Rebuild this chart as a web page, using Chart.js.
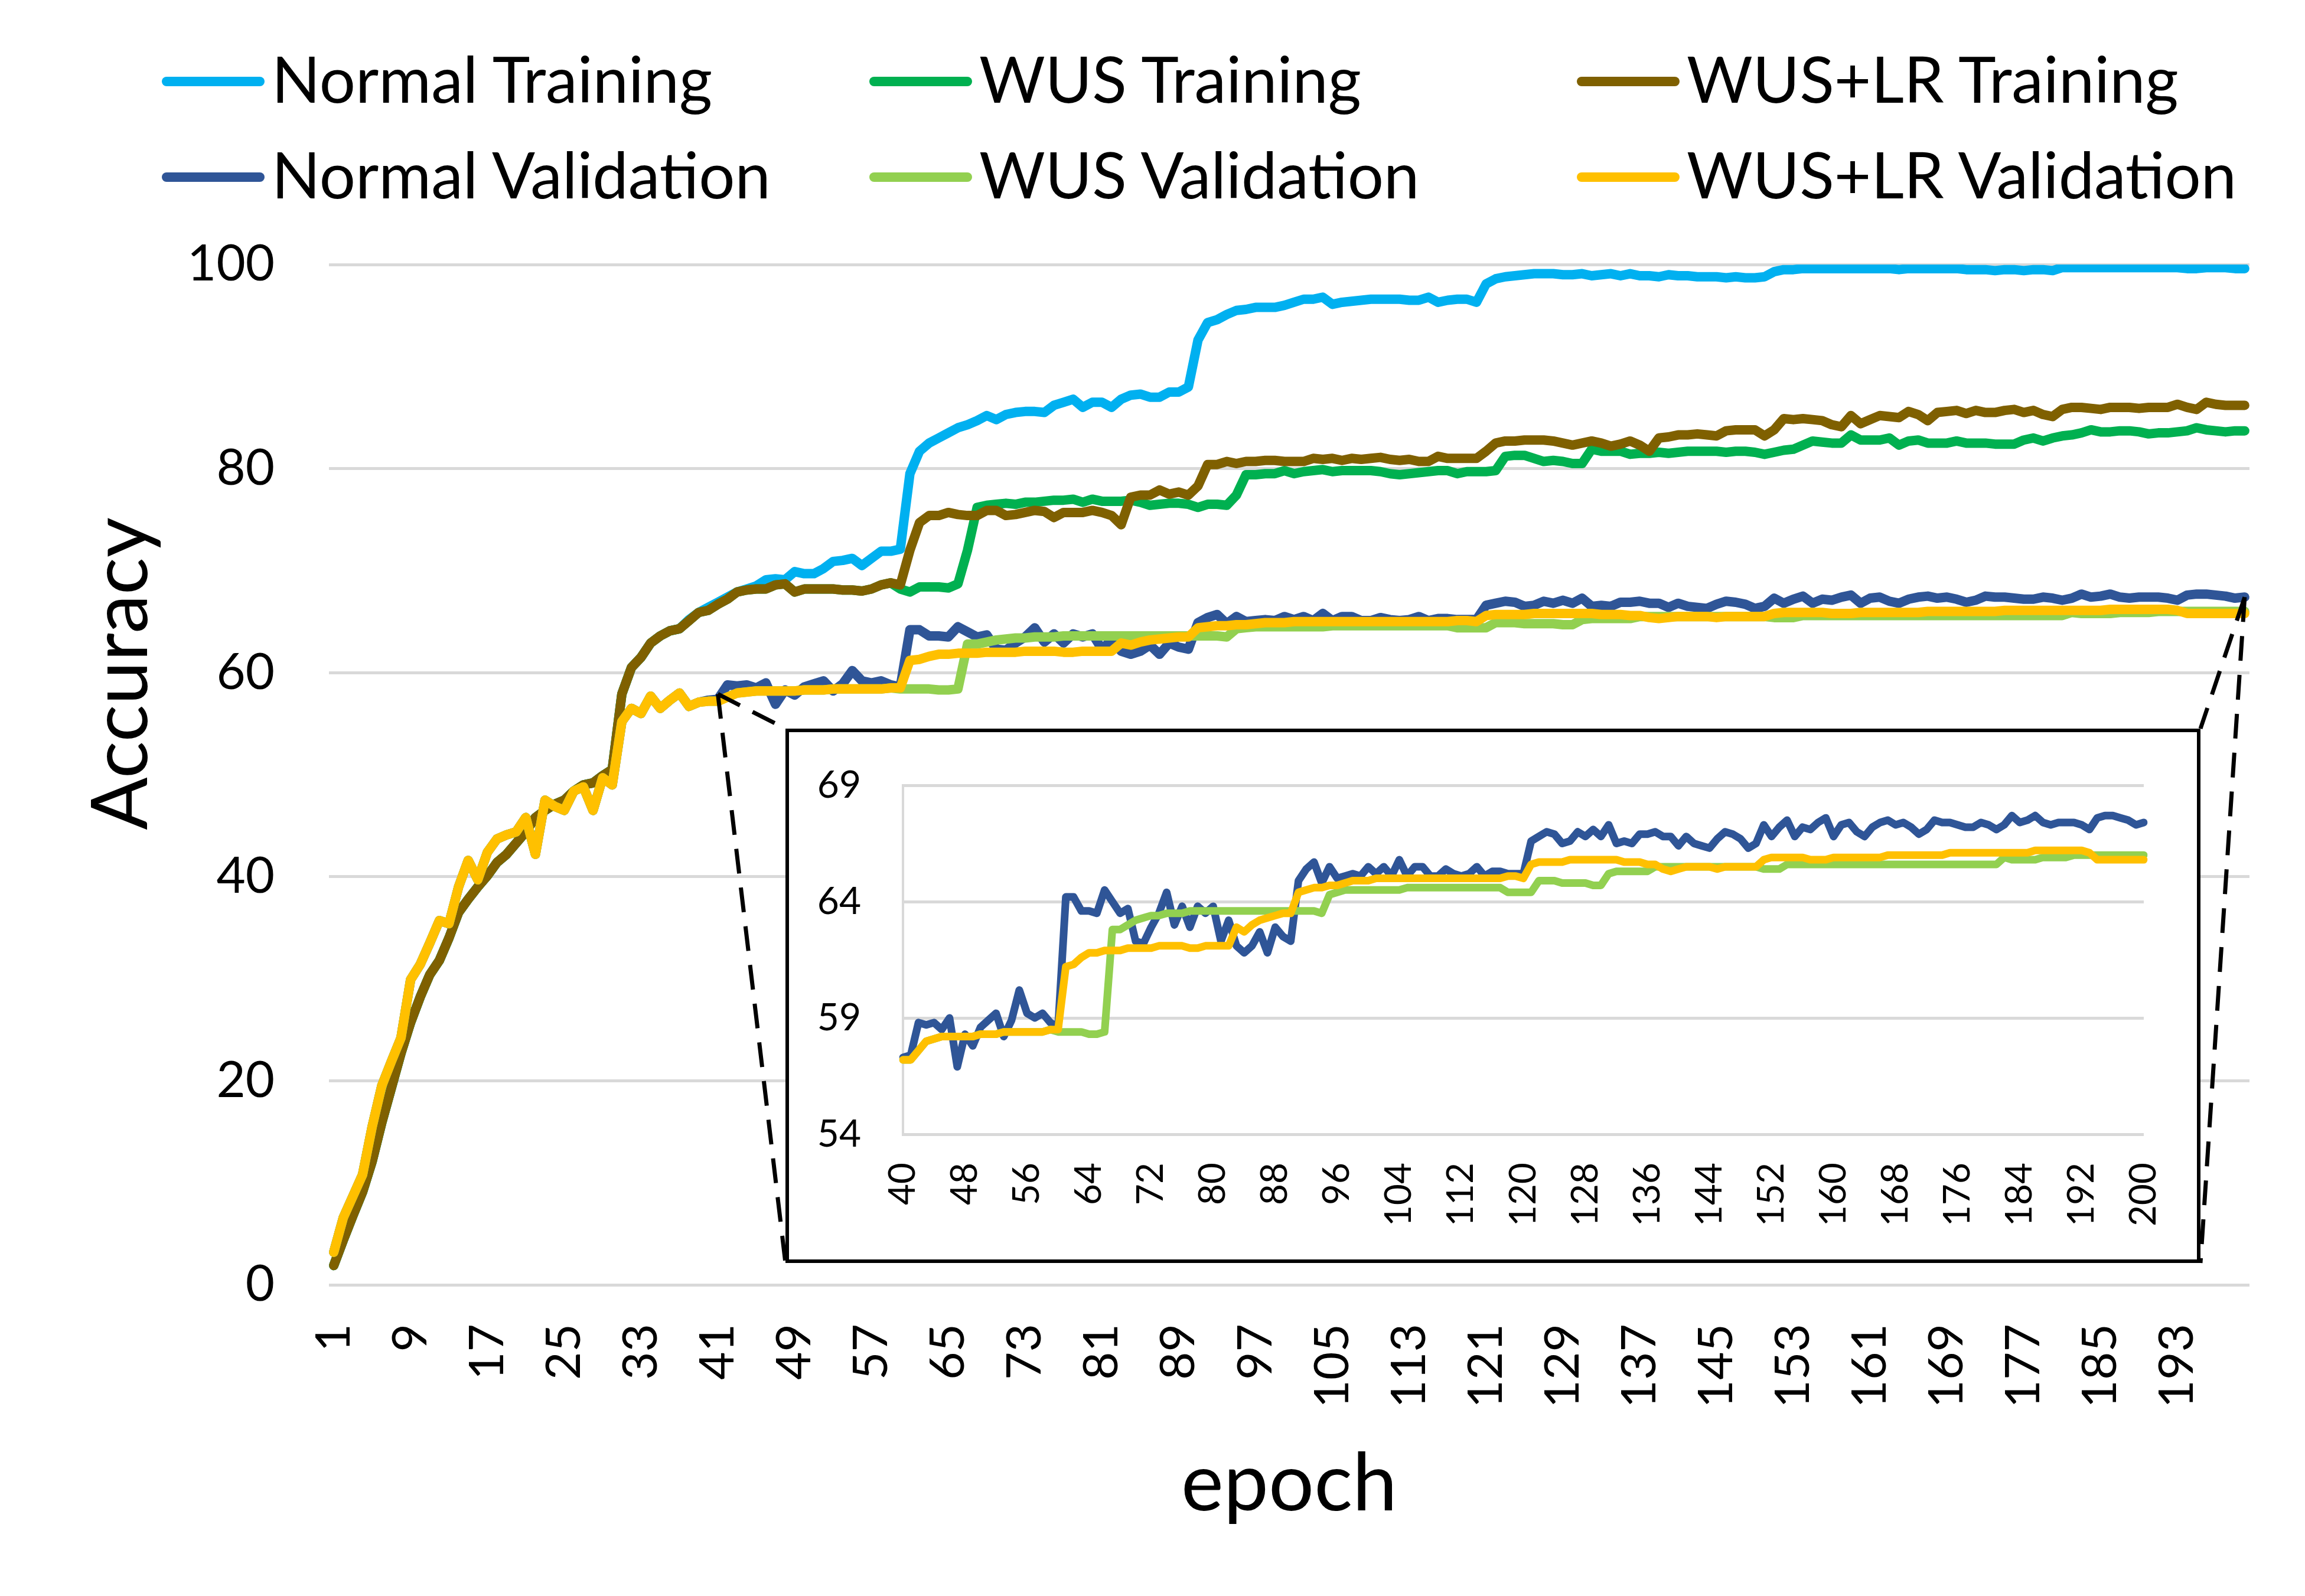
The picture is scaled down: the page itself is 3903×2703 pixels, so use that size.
<!DOCTYPE html>
<html>
<head>
<meta charset="utf-8">
<script src="https://cdn.jsdelivr.net/npm/chart.js@4.4.1/dist/chart.umd.min.js"></script>
<style>
  html, body { margin: 0; padding: 0; background: #fff; }
  #page { position: relative; width: 3903px; height: 2703px; overflow: hidden; font-family: Lato, "DejaVu Sans", sans-serif; }
  #mainWrap { position: absolute; left: 0; top: 0; width: 3903px; height: 2703px; }
  #insetBox { position: absolute; left: 1330px; top: 1234px; width: 2396px; height: 905px; box-sizing: border-box;
              border: 6px solid #000; background: #fff; }
  #insetWrap { position: absolute; left: 0; top: 0; width: 2384px; height: 893px; }
  #legend { position: absolute; left: 274px; top: 51px; display: grid; grid-template-columns: repeat(3, 1198px); grid-auto-rows: 162px; }
  .item { display: flex; align-items: center; }
  .swatch { width: 174px; height: 16px; border-radius: 8px; margin-right: 12px; margin-top: 12px; }
  .text { font-size: 108px; line-height: 1; color: #000; white-space: nowrap; }
</style>
</head>
<body>
<div id="page">
  <div id="mainWrap"><canvas id="main"></canvas></div>
  <div id="insetBox"><div id="insetWrap"><canvas id="inset"></canvas></div></div>
  <div id="legend"></div>
</div>
<script>
// categories
const epochs = Array.from({length: 200}, (_, i) => i + 1);

// training accuracy per epoch (1..200)
const normalTraining = [
  1.9, 4.4, 6.8, 9.1, 12.1, 15.9, 19.3, 22.7, 25.7, 28.2,
  30.4, 31.8, 34.0, 36.5, 37.8, 39.0, 40.1, 41.4, 42.2, 43.3,
  44.4, 45.8, 46.5, 47.1, 47.5, 48.4, 49.0, 49.2, 49.9, 50.5,
  57.9, 60.5, 61.5, 62.9, 63.6, 64.1, 64.3, 65.2, 65.9, 66.4,
  66.9, 67.4, 67.9, 68.2, 68.5, 69.1, 69.2, 69.1, 69.9, 69.7,
  69.7, 70.2, 70.9, 71.0, 71.2, 70.5, 71.2, 71.9, 71.9, 72.1,
  79.5, 81.7, 82.5, 83.0, 83.5, 84.0, 84.3, 84.7, 85.2, 84.8,
  85.3, 85.5, 85.6, 85.6, 85.5, 86.2, 86.5, 86.8, 86.0, 86.5,
  86.5, 86.0, 86.8, 87.2, 87.3, 87.0, 87.0, 87.5, 87.5, 88.0,
  92.6, 94.3, 94.6, 95.1, 95.5, 95.6, 95.8, 95.8, 95.8, 96.0,
  96.3, 96.6, 96.6, 96.8, 96.1, 96.3, 96.4, 96.5, 96.6, 96.6,
  96.6, 96.6, 96.5, 96.5, 96.8, 96.3, 96.5, 96.6, 96.6, 96.3,
  98.1, 98.6, 98.8, 98.9, 99.0, 99.1, 99.1, 99.1, 99.0, 99.0,
  99.1, 98.9, 99.0, 99.1, 98.9, 99.1, 98.9, 98.9, 98.8, 99.0,
  98.9, 98.9, 98.8, 98.8, 98.8, 98.7, 98.8, 98.7, 98.7, 98.8,
  99.3, 99.5, 99.5, 99.6, 99.6, 99.6, 99.6, 99.6, 99.6, 99.6,
  99.6, 99.6, 99.6, 99.5, 99.6, 99.6, 99.6, 99.6, 99.6, 99.6,
  99.5, 99.5, 99.5, 99.4, 99.5, 99.5, 99.4, 99.5, 99.5, 99.4,
  99.7, 99.7, 99.7, 99.7, 99.7, 99.7, 99.7, 99.7, 99.7, 99.7,
  99.7, 99.7, 99.7, 99.6, 99.6, 99.7, 99.7, 99.7, 99.6, 99.6
];
const wusTraining = [
  1.9, 4.4, 6.8, 9.1, 12.1, 15.9, 19.3, 22.7, 25.7, 28.2,
  30.4, 31.8, 34.0, 36.5, 37.8, 39.0, 40.1, 41.4, 42.2, 43.3,
  44.4, 45.8, 46.5, 47.1, 47.5, 48.4, 49.0, 49.2, 49.9, 50.5,
  57.9, 60.5, 61.5, 62.9, 63.6, 64.1, 64.3, 65.1, 65.9, 66.1,
  66.7, 67.2, 67.9, 68.1, 68.2, 68.2, 68.6, 68.7, 67.9, 68.2,
  68.2, 68.2, 68.2, 68.1, 68.1, 68.0, 68.2, 68.6, 68.8, 68.2,
  67.9, 68.4, 68.4, 68.4, 68.3, 68.7, 72.0, 76.2, 76.4, 76.5,
  76.6, 76.5, 76.7, 76.7, 76.8, 76.9, 76.9, 77.0, 76.7, 77.0,
  76.8, 76.8, 76.8, 76.9, 76.7, 76.4, 76.5, 76.6, 76.6, 76.5,
  76.2, 76.5, 76.5, 76.4, 77.4, 79.4, 79.4, 79.5, 79.5, 79.8,
  79.5, 79.7, 79.8, 79.9, 79.7, 79.8, 79.8, 79.8, 79.8, 79.7,
  79.5, 79.4, 79.5, 79.6, 79.7, 79.8, 79.8, 79.5, 79.7, 79.7,
  79.7, 79.8, 81.2, 81.3, 81.3, 81.0, 80.7, 80.8, 80.7, 80.5,
  80.5, 81.9, 81.7, 81.7, 81.7, 81.4, 81.5, 81.5, 81.6, 81.5,
  81.6, 81.7, 81.7, 81.7, 81.7, 81.6, 81.7, 81.7, 81.6, 81.4,
  81.6, 81.8, 81.9, 82.3, 82.7, 82.6, 82.5, 82.5, 83.3, 82.8,
  82.8, 82.8, 83.0, 82.3, 82.7, 82.8, 82.5, 82.5, 82.5, 82.7,
  82.5, 82.5, 82.5, 82.4, 82.4, 82.4, 82.8, 83.0, 82.7, 83.0,
  83.2, 83.3, 83.5, 83.8, 83.6, 83.6, 83.7, 83.7, 83.6, 83.4,
  83.5, 83.5, 83.6, 83.7, 84.0, 83.8, 83.7, 83.6, 83.7, 83.7
];
const wusLrTraining = [
  1.9, 4.4, 6.8, 9.1, 12.1, 15.9, 19.3, 22.7, 25.7, 28.2,
  30.4, 31.8, 34.0, 36.5, 37.8, 39.0, 40.1, 41.4, 42.2, 43.3,
  44.4, 45.8, 46.5, 47.1, 47.5, 48.4, 49.0, 49.2, 49.9, 50.5,
  57.9, 60.5, 61.5, 62.9, 63.6, 64.1, 64.3, 65.1, 65.9, 66.1,
  66.7, 67.2, 67.9, 68.1, 68.2, 68.2, 68.6, 68.7, 67.9, 68.2,
  68.2, 68.2, 68.2, 68.1, 68.1, 68.0, 68.2, 68.6, 68.8, 68.6,
  72.0, 74.7, 75.4, 75.4, 75.7, 75.5, 75.4, 75.4, 75.9, 75.9,
  75.4, 75.5, 75.7, 75.9, 75.8, 75.2, 75.7, 75.7, 75.7, 75.9,
  75.7, 75.4, 74.5, 77.2, 77.4, 77.4, 77.9, 77.5, 77.7, 77.4,
  78.3, 80.4, 80.4, 80.7, 80.5, 80.7, 80.7, 80.8, 80.8, 80.7,
  80.7, 80.7, 81.0, 80.9, 81.0, 80.8, 81.0, 80.9, 81.0, 81.1,
  80.9, 80.8, 80.9, 80.7, 80.7, 81.2, 81.0, 81.0, 81.0, 81.0,
  81.7, 82.5, 82.7, 82.7, 82.8, 82.8, 82.8, 82.7, 82.5, 82.3,
  82.5, 82.7, 82.5, 82.2, 82.4, 82.7, 82.3, 81.7, 83.0, 83.1,
  83.3, 83.3, 83.4, 83.3, 83.2, 83.7, 83.8, 83.8, 83.8, 83.2,
  83.8, 84.9, 84.8, 84.9, 84.8, 84.7, 84.3, 84.1, 85.2, 84.4,
  84.8, 85.2, 85.1, 85.0, 85.6, 85.3, 84.7, 85.5, 85.6, 85.7,
  85.4, 85.7, 85.5, 85.5, 85.7, 85.8, 85.5, 85.7, 85.3, 85.1,
  85.8, 86.0, 86.0, 85.9, 85.8, 86.0, 86.0, 86.0, 85.9, 86.0,
  86.0, 86.0, 86.3, 86.0, 85.8, 86.5, 86.3, 86.2, 86.2, 86.2
];

// validation accuracy per epoch (1..200)
const normalValidation = [
  3.2, 6.6, 8.7, 10.8, 15.5, 19.5, 21.9, 24.2, 29.9, 31.4,
  33.5, 35.7, 35.4, 39.0, 41.6, 39.7, 42.4, 43.7, 44.1, 44.4,
  45.8, 42.2, 47.5, 46.9, 46.5, 48.4, 48.8, 46.5, 49.7, 49.0,
  55.2, 56.5, 56.0, 57.7, 56.5, 57.3, 58.0, 56.7, 57.1, 57.3,
  57.4, 58.8, 58.7, 58.8, 58.5, 59.0, 56.9, 58.3, 57.8, 58.6,
  58.9, 59.2, 58.2, 58.9, 60.2, 59.2, 59.0, 59.2, 58.8, 58.6,
  64.2, 64.2, 63.6, 63.6, 63.5, 64.5, 64.0, 63.5, 63.7, 62.3,
  62.2, 62.9, 63.5, 64.4, 63.0, 63.8, 62.9, 63.8, 63.5, 63.8,
  62.3, 63.2, 62.1, 61.8, 62.1, 62.7, 61.8, 62.9, 62.5, 62.3,
  64.9, 65.4, 65.7, 64.8, 65.5, 65.0, 65.1, 65.2, 65.1, 65.5,
  65.2, 65.5, 65.1, 65.8, 65.1, 65.5, 65.5, 65.1, 65.1, 65.4,
  65.2, 65.1, 65.2, 65.5, 65.1, 65.3, 65.3, 65.2, 65.2, 65.2,
  66.6, 66.8, 67.0, 66.9, 66.5, 66.6, 67.0, 66.8, 67.1, 66.8,
  67.3, 66.5, 66.6, 66.5, 66.9, 66.9, 67.0, 66.8, 66.8, 66.4,
  66.8, 66.5, 66.4, 66.3, 66.7, 67.0, 66.9, 66.7, 66.3, 66.5,
  67.3, 66.8, 67.2, 67.5, 66.8, 67.2, 67.1, 67.4, 67.6, 66.8,
  67.3, 67.4, 67.0, 66.8, 67.2, 67.4, 67.5, 67.3, 67.4, 67.2,
  66.9, 67.1, 67.5, 67.4, 67.4, 67.3, 67.2, 67.2, 67.4, 67.3,
  67.1, 67.3, 67.7, 67.4, 67.5, 67.7, 67.4, 67.3, 67.4, 67.4,
  67.4, 67.3, 67.1, 67.6, 67.7, 67.7, 67.6, 67.5, 67.3, 67.4
];
const wusValidation = [
  3.2, 6.6, 8.7, 10.8, 15.5, 19.5, 21.9, 24.2, 29.9, 31.4,
  33.5, 35.7, 35.4, 39.0, 41.6, 39.7, 42.4, 43.7, 44.1, 44.4,
  45.8, 42.2, 47.5, 46.9, 46.5, 48.4, 48.8, 46.5, 49.7, 49.0,
  55.2, 56.5, 56.0, 57.7, 56.5, 57.3, 58.0, 56.7, 57.1, 57.2,
  57.2, 57.6, 58.0, 58.1, 58.2, 58.2, 58.2, 58.2, 58.2, 58.3,
  58.3, 58.3, 58.4, 58.4, 58.4, 58.4, 58.4, 58.4, 58.5, 58.4,
  58.4, 58.4, 58.4, 58.3, 58.3, 58.4, 62.8, 62.8, 63.0, 63.2,
  63.3, 63.4, 63.4, 63.5, 63.5, 63.5, 63.6, 63.6, 63.6, 63.6,
  63.6, 63.6, 63.6, 63.6, 63.6, 63.6, 63.6, 63.6, 63.6, 63.6,
  63.6, 63.6, 63.6, 63.5, 64.3, 64.4, 64.5, 64.5, 64.5, 64.5,
  64.5, 64.5, 64.5, 64.5, 64.6, 64.6, 64.6, 64.6, 64.6, 64.6,
  64.6, 64.6, 64.6, 64.6, 64.6, 64.6, 64.6, 64.4, 64.4, 64.4,
  64.4, 64.9, 64.9, 64.9, 64.8, 64.8, 64.8, 64.8, 64.7, 64.7,
  65.2, 65.3, 65.3, 65.3, 65.3, 65.3, 65.5, 65.5, 65.5, 65.5,
  65.5, 65.5, 65.5, 65.5, 65.5, 65.5, 65.5, 65.5, 65.5, 65.5,
  65.4, 65.4, 65.4, 65.6, 65.6, 65.6, 65.6, 65.6, 65.6, 65.6,
  65.6, 65.6, 65.6, 65.6, 65.6, 65.6, 65.6, 65.6, 65.6, 65.6,
  65.6, 65.6, 65.6, 65.6, 65.6, 65.6, 65.6, 65.6, 65.6, 65.6,
  65.6, 65.9, 65.8, 65.8, 65.8, 65.8, 65.9, 65.9, 65.9, 65.9,
  66.0, 66.0, 66.0, 66.0, 66.0, 66.0, 66.0, 66.0, 66.0, 66.0
];
const wusLrValidation = [
  3.2, 6.6, 8.7, 10.8, 15.5, 19.5, 21.9, 24.2, 29.9, 31.4,
  33.5, 35.7, 35.4, 39.0, 41.6, 39.7, 42.4, 43.7, 44.1, 44.4,
  45.8, 42.2, 47.5, 46.9, 46.5, 48.4, 48.8, 46.5, 49.7, 49.0,
  55.2, 56.5, 56.0, 57.7, 56.5, 57.3, 58.0, 56.7, 57.1, 57.2,
  57.2, 57.6, 58.0, 58.1, 58.2, 58.2, 58.2, 58.2, 58.2, 58.3,
  58.3, 58.3, 58.4, 58.4, 58.4, 58.4, 58.4, 58.4, 58.5, 58.5,
  61.2, 61.3, 61.6, 61.8, 61.8, 61.9, 61.9, 61.9, 62.0, 62.0,
  62.0, 62.0, 62.1, 62.1, 62.1, 62.1, 62.0, 62.0, 62.1, 62.1,
  62.1, 62.1, 62.9, 62.7, 63.0, 63.2, 63.3, 63.4, 63.5, 63.5,
  64.4, 64.5, 64.6, 64.6, 64.7, 64.7, 64.8, 64.9, 64.9, 64.9,
  65.0, 65.0, 65.0, 65.0, 65.0, 65.0, 65.0, 65.0, 65.0, 65.0,
  65.0, 65.0, 65.0, 65.0, 65.0, 65.0, 65.0, 65.1, 65.1, 65.0,
  65.6, 65.7, 65.7, 65.7, 65.7, 65.8, 65.8, 65.8, 65.8, 65.8,
  65.8, 65.8, 65.7, 65.7, 65.7, 65.6, 65.6, 65.4, 65.3, 65.4,
  65.5, 65.5, 65.5, 65.5, 65.4, 65.5, 65.5, 65.5, 65.5, 65.5,
  65.8, 65.9, 65.9, 65.9, 65.9, 65.9, 65.8, 65.8, 65.8, 65.9,
  65.9, 65.9, 65.9, 65.9, 65.9, 65.9, 66.0, 66.0, 66.0, 66.0,
  66.0, 66.0, 66.0, 66.0, 66.1, 66.1, 66.1, 66.1, 66.1, 66.1,
  66.1, 66.1, 66.1, 66.1, 66.1, 66.2, 66.2, 66.2, 66.2, 66.2,
  66.2, 66.2, 66.1, 65.8, 65.8, 65.8, 65.8, 65.8, 65.8, 65.8
];

// axis ticks
const mainYTicks = [0, 20, 40, 60, 80, 100];
const insetYTicks = [54, 59, 64, 69];
const insetFirstEpoch = 40;

// where the zoom connectors start on the main chart: [epoch, accuracy]
const zoomFrom = [41, 57.9];
const zoomTo = [200, 67.4];

const FONT = 'Lato, "DejaVu Sans", sans-serif';
Chart.defaults.font.family = FONT;
Chart.defaults.color = '#000';

const GRID = '#D9D9D9';

function series(label, data, color, order, width) {
    return {
        label: label,
        data: data,
        borderColor: color,
        backgroundColor: color,
        borderWidth: width,
        pointRadius: 0,
        tension: 0,
        order: order,
        borderJoinStyle: 'round',
        borderCapStyle: 'round'
    };
}

// fixed axis box sizes, and no extra padding from the tick labels
function fixSize(w, h) {
    return (s) => {
        if (w != null) s.width = w;
        if (h != null) s.height = h;
        s.paddingLeft = 0; s.paddingRight = 0; s.paddingTop = 0; s.paddingBottom = 0;
    };
}

const overlay = {
    id: 'overlay',
    afterDraw(chart) {
        const {ctx, scales: {x, y}} = chart;
        ctx.save();
        ctx.fillStyle = '#000';
        ctx.textAlign = 'center';
        ctx.textBaseline = 'alphabetic';
        ctx.font = '132px ' + FONT;
        ctx.save();
        ctx.translate(249, 1141);
        ctx.rotate(-Math.PI / 2);
        ctx.fillText('Accuracy', 0, 0);
        ctx.restore();
        ctx.font = '136px ' + FONT;
        ctx.fillText('epoch', (chart.chartArea.left + chart.chartArea.right) / 2, 2558);

        // dashed connectors to the inset box
        const box = document.getElementById('insetBox');
        const bl = box.offsetLeft, bt = box.offsetTop;
        const br = bl + box.offsetWidth, bb = bt + box.offsetHeight;
        const p1 = [x.getPixelForValue(epochs.indexOf(zoomFrom[0])), y.getPixelForValue(zoomFrom[1])];
        const p2 = [x.getPixelForValue(epochs.indexOf(zoomTo[0])), y.getPixelForValue(zoomTo[1])];
        ctx.strokeStyle = '#000';
        ctx.lineWidth = 7;
        ctx.setLineDash([42, 24]);
        ctx.beginPath();
        ctx.moveTo(p1[0], p1[1]); ctx.lineTo(bl, bt);
        ctx.moveTo(p1[0], p1[1]); ctx.lineTo(bl, bb);
        ctx.moveTo(p2[0], p2[1]); ctx.lineTo(br, bt);
        ctx.moveTo(p2[0], p2[1]); ctx.lineTo(br, bb);
        ctx.stroke();
        ctx.restore();
    }
};

const mainChart = new Chart(document.getElementById('main'), {
    type: 'line',
    data: {
        labels: epochs,
        datasets: [
            series('Normal Training', normalTraining, '#00B0F0', 6, 16),
            series('WUS Training', wusTraining, '#00B050', 5, 16),
            series('WUS+LR Training', wusLrTraining, '#7F6000', 4, 16),
            series('Normal Validation', normalValidation, '#2F5597', 3, 16),
            series('WUS Validation', wusValidation, '#92D050', 2, 16),
            series('WUS+LR Validation', wusLrValidation, '#FFC000', 1, 16)
        ]
    },
    options: {
        responsive: true,
        maintainAspectRatio: false,
        devicePixelRatio: 1,
        animation: false,
        layout: { autoPadding: false, padding: { top: 448, right: 94, bottom: 0, left: 0 } },
        plugins: { legend: { display: false }, tooltip: { enabled: false } },
        scales: {
            x: {
                offset: true,
                grid: { display: false, drawTicks: false },
                border: { display: false },
                ticks: {
                    autoSkip: false,
                    minRotation: 90,
                    maxRotation: 90,
                    padding: 66,
                    font: { size: 82 },
                    callback: (v, i) => (i % 8 === 0 ? String(epochs[i]) : '')
                },
                afterFit: fixSize(null, 527)
            },
            y: {
                min: 0,
                max: 100,
                afterBuildTicks: (s) => { s.ticks = mainYTicks.map(v => ({value: v})); },
                grid: { color: GRID, lineWidth: 5, drawTicks: false },
                border: { display: false },
                ticks: { padding: 92, font: { size: 85 } },
                afterFit: fixSize(557, null)
            }
        }
    },
    plugins: [overlay]
});

const insetLabels = epochs.slice(insetFirstEpoch - 1);
const cut = (arr) => arr.slice(insetFirstEpoch - 1);

new Chart(document.getElementById('inset'), {
    type: 'line',
    data: {
        labels: insetLabels,
        datasets: [
            series('Normal Validation', cut(normalValidation), '#2F5597', 3, 13),
            series('WUS Validation', cut(wusValidation), '#92D050', 2, 13),
            series('WUS+LR Validation', cut(wusLrValidation), '#FFC000', 1, 13)
        ]
    },
    options: {
        responsive: true,
        maintainAspectRatio: false,
        devicePixelRatio: 1,
        animation: false,
        layout: { autoPadding: false, padding: { top: 90, right: 90, bottom: 0, left: 0 } },
        plugins: { legend: { display: false }, tooltip: { enabled: false } },
        scales: {
            x: {
                offset: false,
                grid: { display: false, drawTicks: false },
                border: { display: false },
                ticks: {
                    autoSkip: false,
                    minRotation: 90,
                    maxRotation: 90,
                    padding: 48,
                    font: { size: 62 },
                    callback: (v, i) => (i % 8 === 0 ? String(insetLabels[i]) : '')
                },
                afterFit: fixSize(null, 212)
            },
            y: {
                min: 54,
                max: 69,
                afterBuildTicks: (s) => { s.ticks = insetYTicks.map(v => ({value: v})); },
                grid: { color: GRID, lineWidth: 5, drawTicks: false },
                border: { display: true, color: GRID, width: 4 },
                ticks: { padding: 71, font: { size: 64 } },
                afterFit: fixSize(193, null)
            }
        }
    }
});

// legend laid out like the original: three columns, two rows
const legend = document.getElementById('legend');
mainChart.data.datasets.forEach(ds => {
    const item = document.createElement('div');
    item.className = 'item';
    const sw = document.createElement('div');
    sw.className = 'swatch';
    sw.style.background = ds.borderColor;
    const tx = document.createElement('span');
    tx.className = 'text';
    tx.textContent = ds.label;
    item.appendChild(sw);
    item.appendChild(tx);
    legend.appendChild(item);
});
</script>
</body>
</html>
